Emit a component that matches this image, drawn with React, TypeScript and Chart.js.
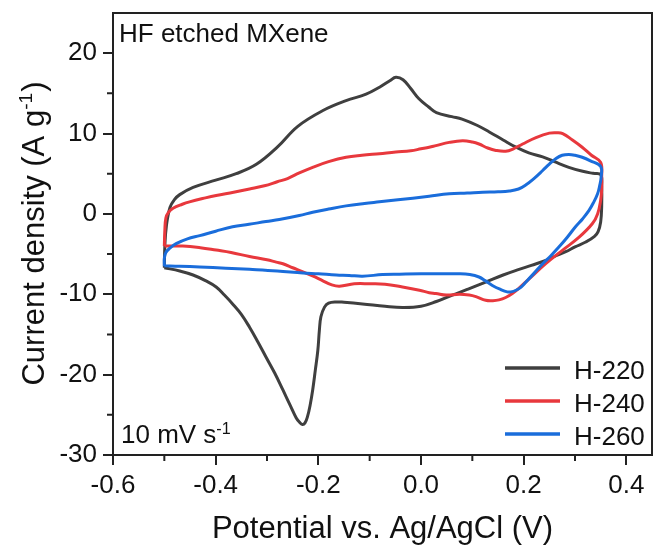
import React, { useEffect, useRef } from "react";
import { Chart, registerables } from "chart.js";

Chart.register(...registerables);

// ---------- data (potential V vs Ag/AgCl, current density A/g) ----------
const h220Potential = [
  -0.5, -0.499, -0.496, -0.489, -0.48, -0.47, -0.444, -0.4, -0.36, -0.32, -0.28, -0.24, -0.19, -0.146, -0.107,
  -0.08, -0.06, -0.049, -0.035, -0.02, -0.005, 0.015, 0.03, 0.06, 0.08, 0.11, 0.133, 0.16, 0.185, 0.21, 0.237,
  0.26, 0.288, 0.315, 0.335, 0.35,
  0.352, 0.352, 0.35, 0.345, 0.338, 0.321, 0.3, 0.282, 0.26, 0.243, 0.215, 0.191, 0.16, 0.126, 0.09, 0.061,
  0.03, 0.0, -0.036, -0.07, -0.114, -0.15, -0.165, -0.18, -0.188, -0.195, -0.198, -0.201, -0.206, -0.211,
  -0.216, -0.221, -0.226, -0.231, -0.237, -0.243, -0.255, -0.269, -0.285, -0.302, -0.318, -0.334, -0.35,
  -0.367, -0.383, -0.399, -0.42, -0.444, -0.47, -0.5,
];
const h220Current = [
  -6.7, -4.0, -1.5, 0.8, 1.8, 2.4, 3.3, 4.2, 5.0, 6.2, 8.3, 10.9, 12.9, 14.1, 14.9,
  15.8, 16.6, 17.0, 16.7, 15.6, 14.4, 13.3, 12.6, 12.1, 11.8, 11.0, 10.2, 9.2, 8.3, 7.6, 7.1,
  6.5, 5.8, 5.3, 5.05, 4.9,
  3.5, 1.0, -1.0, -2.2, -2.8, -3.5, -4.1, -4.7, -5.3, -5.8, -6.4, -6.9, -7.6, -8.5, -9.4, -10.1,
  -10.9, -11.5, -11.65, -11.5, -11.2, -11.0, -10.95, -11.1, -11.6, -12.8, -14.5, -17.0, -19.5, -21.9,
  -23.8, -25.2, -26.0, -26.2, -25.9, -25.4, -23.8, -21.9, -19.8, -17.8, -15.9, -14.1, -12.5,
  -11.2, -10.1, -9.1, -8.3, -7.6, -7.1, -6.7,
];

const h240Potential = [
  -0.5, -0.499, -0.497, -0.492, -0.483, -0.465, -0.451, -0.42, -0.399, -0.365, -0.334, -0.305, -0.28, -0.26,
  -0.237, -0.211, -0.18, -0.146, -0.115, -0.081, -0.049, -0.02, 0.0, 0.016, 0.029, 0.055, 0.081, 0.1, 0.113,
  0.13, 0.146, 0.165, 0.18, 0.198, 0.224, 0.25, 0.265, 0.276, 0.295, 0.314, 0.332, 0.35,
  0.352, 0.352, 0.35, 0.344, 0.334, 0.308, 0.276, 0.243, 0.211, 0.19, 0.178, 0.165, 0.152, 0.14, 0.126,
  0.107, 0.094, 0.075, 0.049, 0.029, 0.016, -0.003, -0.036, -0.07, -0.1, -0.13, -0.159, -0.175, -0.192,
  -0.21, -0.23, -0.25, -0.269, -0.282, -0.3, -0.334, -0.37, -0.399, -0.43, -0.464, -0.5,
];
const h240Current = [
  -4.0, -2.0, -0.5, 0.2, 0.7, 1.2, 1.5, 2.0, 2.3, 2.7, 3.1, 3.5, 4.0, 4.4,
  5.1, 5.8, 6.5, 7.05, 7.3, 7.5, 7.7, 7.85, 8.1, 8.3, 8.5, 8.9, 9.1, 8.95, 8.7,
  8.2, 7.9, 7.8, 8.1, 8.7, 9.5, 10.05, 10.1, 10.0, 9.2, 8.3, 7.3, 6.4,
  4.5, 3.0, 1.7, 0.0, -1.2, -2.9, -4.5, -6.2, -8.05, -9.3, -9.9, -10.4, -10.7, -10.8, -10.75,
  -10.3, -10.1, -10.0, -10.1, -9.9, -9.8, -9.5, -9.1, -8.75, -8.7, -8.7, -9.0, -8.8, -8.3,
  -7.75, -7.2, -6.7, -6.2, -6.0, -5.7, -5.3, -4.8, -4.5, -4.2, -4.0, -4.0,
];

const h260Potential = [
  -0.5, -0.5, -0.497, -0.49, -0.477, -0.455, -0.431, -0.4, -0.367, -0.335, -0.302, -0.276, -0.237, -0.211,
  -0.18, -0.146, -0.11, -0.081, -0.045, -0.016, 0.016, 0.055, 0.09, 0.12, 0.15, 0.172, 0.19, 0.204, 0.22,
  0.237, 0.25, 0.263, 0.275, 0.288, 0.3, 0.314, 0.33, 0.35,
  0.351, 0.348, 0.344, 0.336, 0.327, 0.315, 0.301, 0.285, 0.269, 0.253, 0.237, 0.22, 0.204, 0.195, 0.185,
  0.175, 0.168, 0.155, 0.139, 0.125, 0.113, 0.095, 0.075, 0.04, 0.0, -0.042, -0.075, -0.114, -0.14, -0.165,
  -0.2, -0.23, -0.28, -0.334, -0.38, -0.431, -0.47, -0.5,
];
const h260Current = [
  -6.5, -5.5, -4.8, -4.3, -3.7, -3.1, -2.7, -2.15, -1.6, -1.3, -0.95, -0.7, -0.2, 0.2,
  0.6, 1.0, 1.3, 1.5, 1.75, 1.95, 2.2, 2.5, 2.6, 2.7, 2.75, 2.85, 3.1, 3.6, 4.4,
  5.4, 6.2, 6.9, 7.3, 7.4, 7.3, 7.05, 6.6, 5.9,
  4.6, 3.5, 2.5, 1.4, 0.4, -0.6, -1.6, -2.9, -4.1, -5.2, -6.2, -7.4, -8.5, -9.1, -9.5,
  -9.7, -9.7, -9.4, -8.9, -8.3, -7.85, -7.55, -7.45, -7.45, -7.45, -7.5, -7.55, -7.75, -7.65, -7.6,
  -7.45, -7.35, -7.1, -6.9, -6.75, -6.6, -6.5, -6.45,
];

const seriesNames = ["H-220", "H-240", "H-260"];
const seriesColors = ["#3f3f3f", "#e8383d", "#1a6ddb"];

const xMajor = [-0.6, -0.4, -0.2, 0.0, 0.2, 0.4];
const xMinor = [-0.5, -0.3, -0.1, 0.1, 0.3];
const yMajor = [-30, -20, -10, 0, 10, 20];
const yMinor = [-25, -15, -5, 5, 15];

const xTitle = "Potential vs. Ag/AgCl (V)";
const yTitleParts: [string, boolean][] = [["Current density (A g", false], ["-1", true], [")", false]];
const sampleLabel = "HF etched MXene";
const rateParts: [string, boolean][] = [["10 mV s", false], ["-1", true]];

const FONT = "'Liberation Sans', Arial, Helvetica, sans-serif";

function pts(xs: number[], ys: number[]) {
  return xs.map((x, i) => ({ x, y: ys[i] }));
}

function drawParts(ctx: CanvasRenderingContext2D, parts: [string, boolean][], x: number, y: number, fs: number, align: "left" | "center") {
  const supFs = fs * 0.62;
  const widths = parts.map(([t, sup]) => {
    ctx.font = `${sup ? supFs : fs}px ${FONT}`;
    return ctx.measureText(t).width;
  });
  const total = widths.reduce((a, b) => a + b, 0);
  let cx = align === "center" ? x - total / 2 : x;
  ctx.textAlign = "left";
  ctx.textBaseline = "alphabetic";
  parts.forEach(([t, sup], i) => {
    ctx.font = `${sup ? supFs : fs}px ${FONT}`;
    ctx.fillText(t, cx, sup ? y - fs * 0.36 : y);
    cx += widths[i] + (sup ? 1 : 0);
  });
}

const overlayPlugin = {
  id: "overlay",
  afterDraw(chart: any) {
    const { ctx, chartArea } = chart;
    const { left, right, top, bottom } = chartArea;
    const xs = chart.scales.x;
    const ys = chart.scales.y;
    ctx.save();
    // frame
    ctx.strokeStyle = "#222";
    ctx.lineWidth = 2;
    ctx.strokeRect(left, top, right - left, bottom - top);
    // minor ticks
    ctx.beginPath();
    xMinor.forEach((v) => {
      const px = xs.getPixelForValue(v);
      ctx.moveTo(px, bottom);
      ctx.lineTo(px, bottom + 6);
    });
    yMinor.forEach((v) => {
      const py = ys.getPixelForValue(v);
      ctx.moveTo(left, py);
      ctx.lineTo(left - 6, py);
    });
    ctx.stroke();

    ctx.fillStyle = "#111";
    // sample label
    ctx.font = `26px ${FONT}`;
    ctx.textAlign = "left";
    ctx.textBaseline = "alphabetic";
    ctx.fillText(sampleLabel, left + 6, top + 29);
    // scan rate
    drawParts(ctx, rateParts, left + 8, bottom - 12, 26, "left");

    // legend
    const legendY = [368, 401, 434];
    seriesNames.forEach((name, i) => {
      ctx.strokeStyle = seriesColors[i];
      ctx.lineWidth = 3.5;
      ctx.beginPath();
      ctx.moveTo(505, legendY[i]);
      ctx.lineTo(560, legendY[i]);
      ctx.stroke();
      ctx.fillStyle = "#111";
      ctx.font = `26px ${FONT}`;
      ctx.textAlign = "left";
      ctx.textBaseline = "alphabetic";
      ctx.fillText(name, 574, legendY[i] + 10.5);
    });

    // x title
    ctx.fillStyle = "#111";
    ctx.font = `31px ${FONT}`;
    ctx.textAlign = "center";
    ctx.textBaseline = "alphabetic";
    ctx.fillText(xTitle, (left + right) / 2, 538);

    // y title (rotated)
    ctx.save();
    ctx.translate(43.5, (top + bottom) / 2);
    ctx.rotate(-Math.PI / 2);
    drawParts(ctx, yTitleParts, 0, 0, 31, "center");
    ctx.restore();

    ctx.restore();
  },
};

export default function App() {
  const ref = useRef<HTMLCanvasElement>(null);
  useEffect(() => {
    if (!ref.current) return;
    const mk = (i: number, xs: number[], ys: number[], order: number) => ({
      label: seriesNames[i],
      data: pts(xs, ys),
      showLine: true,
      borderColor: seriesColors[i],
      backgroundColor: seriesColors[i],
      borderWidth: 3,
      pointRadius: 0,
      tension: 0.4,
      fill: false,
      order,
    });
    const chart = new Chart(ref.current, {
      type: "scatter",
      data: {
        datasets: [
          mk(0, h220Potential, h220Current, 3),
          mk(1, h240Potential, h240Current, 2),
          mk(2, h260Potential, h260Current, 1),
        ],
      },
      options: {
        responsive: false,
        animation: false,
        layout: { padding: { top: 13, right: 1, left: 0, bottom: 0 } },
        plugins: { legend: { display: false }, tooltip: { enabled: false } },
        scales: {
          x: {
            type: "linear",
            min: -0.6,
            max: 0.45,
            afterBuildTicks: (s: any) => {
              s.ticks = xMajor.map((value) => ({ value }));
            },
            afterFit: (s: any) => {
              s.height = 94;
              s.paddingLeft = 0;
              s.paddingRight = 0;
            },
            ticks: {
              autoSkip: false,
              maxRotation: 0,
              padding: 5,
              color: "#111",
              font: { family: FONT, size: 26 },
              callback: (v: any) => Number(v).toFixed(1),
            },
            grid: { drawOnChartArea: false, drawTicks: true, tickLength: 10, color: "#222", lineWidth: 2 },
            border: { display: true, color: "#222", width: 2 },
          },
          y: {
            type: "linear",
            min: -30,
            max: 25,
            afterBuildTicks: (s: any) => {
              s.ticks = yMajor.map((value) => ({ value }));
            },
            afterFit: (s: any) => {
              s.width = 113;
              s.paddingTop = 0;
              s.paddingBottom = 0;
            },
            ticks: {
              autoSkip: false,
              padding: 6,
              color: "#111",
              font: { family: FONT, size: 26 },
              callback: (v: any) => String(v),
            },
            grid: { drawOnChartArea: false, drawTicks: true, tickLength: 10, color: "#222", lineWidth: 2 },
            border: { display: true, color: "#222", width: 2 },
          },
        },
      },
      plugins: [overlayPlugin],
    });
    return () => chart.destroy();
  }, []);
  return (
    <div style={{ position: "absolute", left: 0, top: 0, width: 653, height: 549, background: "#fff" }}>
      <canvas ref={ref} width={653} height={549} />
    </div>
  );
}
